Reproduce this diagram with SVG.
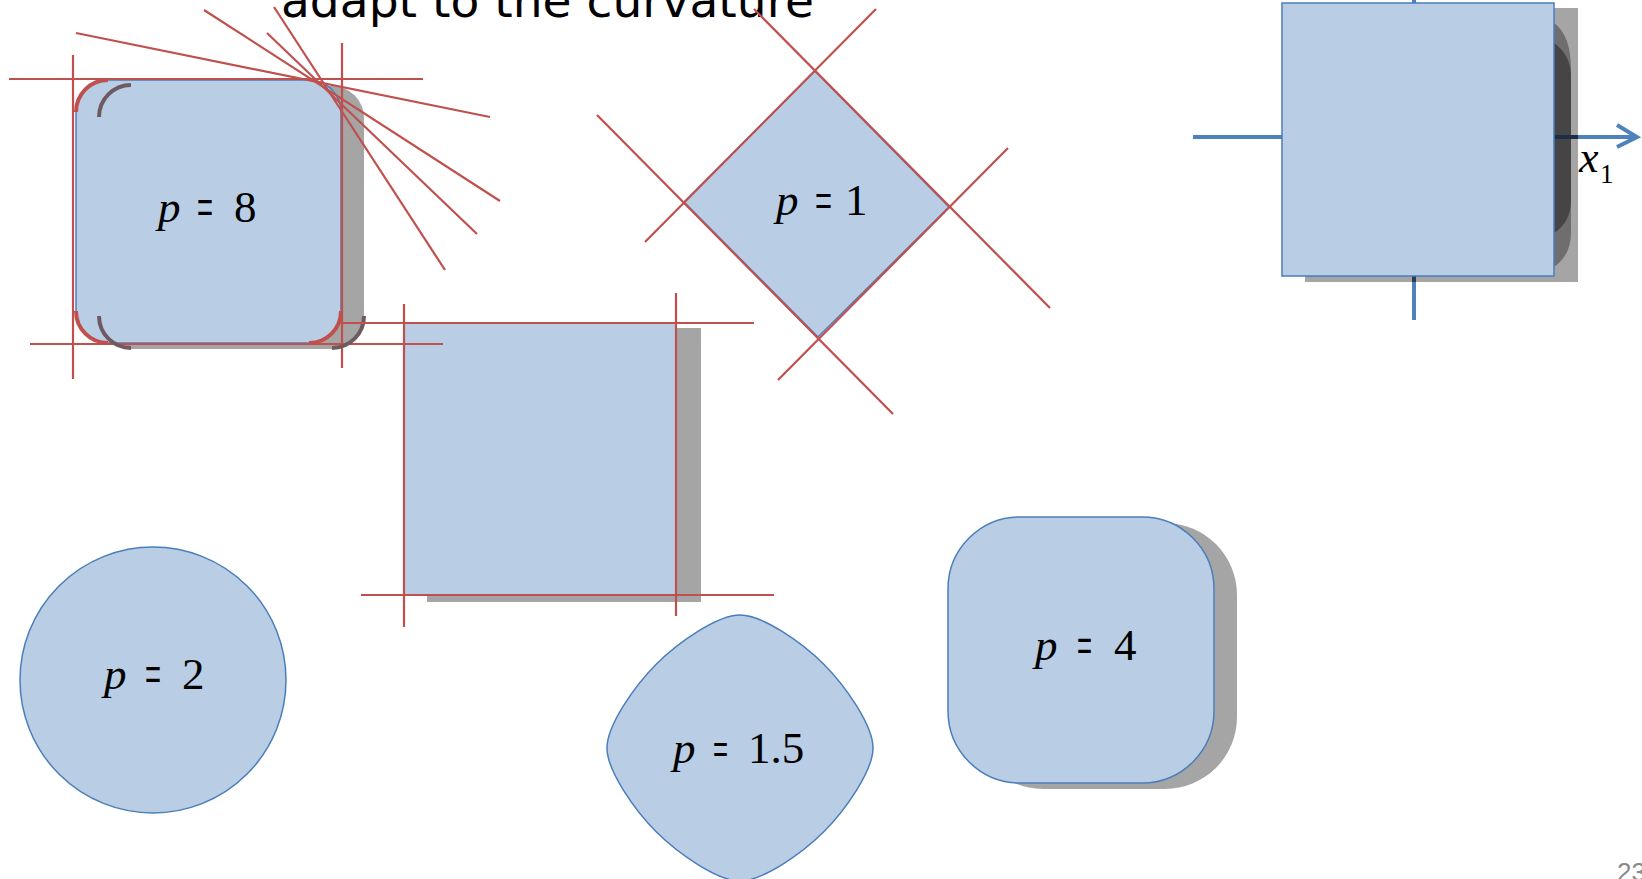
<svg xmlns="http://www.w3.org/2000/svg" width="1642" height="879" viewBox="0 0 1642 879">
<style>
.shape{fill:#b9cde5;stroke:#4a7ebb;stroke-width:1.5}
.shadow{fill:#a5a5a5}
.red{stroke:#c0504d;stroke-width:2.2;fill:none}
.redarc{stroke:#c0504d;stroke-width:4;fill:none}
.darkarc{stroke:#6f5a62;stroke-width:4;fill:none}
.axis{stroke:#4f81bd;stroke-width:4;fill:none}
.eq{font-family:"Liberation Sans",Arial,sans-serif;font-weight:normal}
</style>
<rect width="1642" height="879" fill="#ffffff"/>
<text x="281" y="17" font-family="DejaVu Sans, sans-serif" font-size="47" textLength="533" lengthAdjust="spacingAndGlyphs" fill="#000">adapt to the curvature</text>

<g id="node-p8">
  <rect class="shadow" x="99" y="86" width="265" height="263" rx="32"/>
  <rect class="shape" x="76" y="80" width="265" height="263" rx="32"/>
  <text font-family="Liberation Serif, Times New Roman, serif" font-size="45" fill="#000" y="222"><tspan font-style="italic" x="158">p</tspan><tspan class="eq" font-size="46" x="197" dy="1" textLength="16" lengthAdjust="spacingAndGlyphs">=</tspan><tspan x="234" dy="-1">8</tspan></text>
</g>

<g id="node-square">
  <rect class="shadow" x="427" y="328" width="274" height="274"/>
  <rect class="shape" x="404" y="323" width="272" height="272"/>
</g>

<g id="node-p1">
  <polygon class="shape" points="815,71 949,207 818,337 684,202"/>
  <text font-family="Liberation Serif, Times New Roman, serif" font-size="45" fill="#000" y="215"><tspan font-style="italic" x="776">p</tspan><tspan class="eq" font-size="42" x="815" textLength="17" lengthAdjust="spacingAndGlyphs">=</tspan><tspan x="845">1</tspan></text>
</g>

<g id="node-axes">
  <line class="axis" x1="1193" y1="137" x2="1282" y2="137"/>
  <line class="axis" x1="1578" y1="137" x2="1636" y2="137"/>
  <polyline class="axis" points="1617,125 1637,137 1617,147"/>
  <line class="axis" x1="1414" y1="0" x2="1414" y2="4"/>
  <line class="axis" x1="1414" y1="276" x2="1414" y2="320"/>
  <rect class="shadow" x="1305" y="8" width="273" height="274"/>
  <path d="M1554,23 Q1571,35 1571,70 L1571,233 Q1571,255 1554,267 Z" fill="#6e6e6e"/>
  <path d="M1554,43 Q1571,55 1571,77 L1571,200 Q1571,222 1554,233 Z" fill="#454545"/>
  <line x1="1554" y1="137" x2="1578" y2="137" stroke="#1e2d45" stroke-width="4"/>
  <line x1="1414" y1="276" x2="1414" y2="282" stroke="#2a3b55" stroke-width="4"/>
  <rect class="shape" x="1282" y="3" width="272" height="273"/>
  <text font-family="Liberation Serif, Times New Roman, serif" fill="#000"><tspan x="1579" y="172" font-style="italic" font-size="44">x</tspan><tspan x="1600" y="183" font-size="27">1</tspan></text>
</g>

<g id="node-p2">
  <circle class="shape" cx="153" cy="680" r="133"/>
  <text font-family="Liberation Serif, Times New Roman, serif" font-size="45" fill="#000" y="689"><tspan font-style="italic" x="104">p</tspan><tspan class="eq" font-size="46" x="145" dy="1" textLength="16" lengthAdjust="spacingAndGlyphs">=</tspan><tspan x="182" dy="-1">2</tspan></text>
</g>

<g id="node-p15">
  <path class="shape" d="M873,748 C873,770.6 845.7,809.8 823.8,831.8 C801.8,853.7 762.6,881 740,881 C717.4,881 678.2,853.7 656.2,831.8 C634.3,809.8 607,770.6 607,748 C607,725.4 634.3,686.2 656.2,664.2 C678.2,642.3 717.4,615 740,615 C762.6,615 801.8,642.3 823.8,664.2 C845.7,686.2 873,725.4 873,748 Z"/>
  <text font-family="Liberation Serif, Times New Roman, serif" font-size="45" fill="#000" y="763"><tspan font-style="italic" x="673">p</tspan><tspan class="eq" font-size="40" x="713" textLength="15" lengthAdjust="spacingAndGlyphs">=</tspan><tspan x="748">1.5</tspan></text>
</g>

<g id="node-p4">
  <rect class="shadow" x="971" y="523" width="266" height="266" rx="72"/>
  <rect class="shape" x="948" y="517" width="266" height="266" rx="72"/>
  <text font-family="Liberation Serif, Times New Roman, serif" font-size="45" fill="#000" y="660"><tspan font-style="italic" x="1035">p</tspan><tspan class="eq" font-size="44" x="1077" dy="1" textLength="15" lengthAdjust="spacingAndGlyphs">=</tspan><tspan x="1114" dy="-1">4</tspan></text>
</g>

<g id="connectors">
  <line class="red" x1="9" y1="79" x2="423" y2="79"/>
  <line class="red" x1="30" y1="344" x2="443" y2="344"/>
  <line class="red" x1="73" y1="55" x2="73" y2="379"/>
  <line class="red" x1="342" y1="43" x2="342" y2="368"/>
  <line class="red" x1="76" y1="33" x2="490" y2="117"/>
  <line class="red" x1="204" y1="10" x2="500" y2="201"/>
  <line class="red" x1="267" y1="33" x2="477" y2="234"/>
  <line class="red" x1="274" y1="7" x2="445" y2="270"/>
  <path class="darkarc" d="M99,117 A32,32 0 0 1 131,85"/>
  <path class="darkarc" d="M99,316 A32,32 0 0 0 131,348"/>
  <path class="darkarc" d="M332,348 A32,32 0 0 0 364,316"/>
  <path class="redarc" d="M76,112 A32,32 0 0 1 108,80"/>
  <path class="redarc" d="M76,311 A32,32 0 0 0 108,343"/>
  <path class="redarc" d="M309,343 A32,32 0 0 0 341,311"/>
  <line class="red" x1="342" y1="323" x2="754" y2="323"/>
  <line class="red" x1="361" y1="595" x2="774" y2="595"/>
  <line class="red" x1="404" y1="304" x2="404" y2="627"/>
  <line class="red" x1="676" y1="293" x2="676" y2="616"/>
  <line class="red" x1="645" y1="242" x2="876" y2="9"/>
  <line class="red" x1="754" y1="9" x2="1050" y2="308"/>
  <line class="red" x1="597" y1="115" x2="893" y2="414"/>
  <line class="red" x1="778" y1="380" x2="1008" y2="148"/>
</g>

<text x="1617" y="881" font-family="Liberation Sans, sans-serif" font-size="26" fill="#8a8a8a">23</text>
</svg>
